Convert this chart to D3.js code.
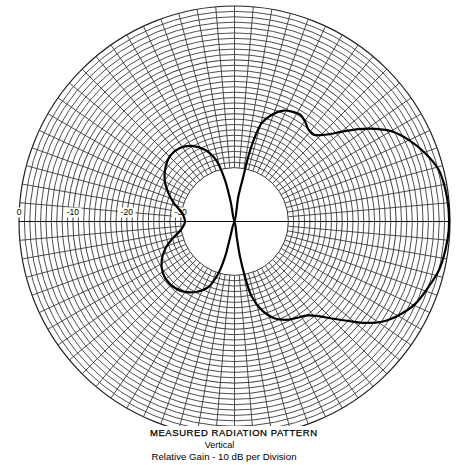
<!DOCTYPE html>
<html>
<head>
<meta charset="utf-8">
<script src="https://cdn.jsdelivr.net/npm/d3@7/dist/d3.min.js"></script>
<style>
  body { margin: 0; background: #fff; }
  text { font-family: "Liberation Sans", Arial, sans-serif; }
</style>
</head>
<body>
<div id="chart"></div>
<script>
// pattern, angle clockwise from top (deg) and relative gain (dB)
const angleDeg = [0, 8.7, 11.1, 12.0, 13.6, 15.5, 19.3, 23.8, 27.5, 31.6, 35.2, 38.9, 42.3, 46.3,
  50.1, 53.3, 56.7, 60.3, 64.9, 70.3, 75.8, 81.5, 86.9, 92.3, 97.7, 103.4, 108.6, 114.4,
  119.7, 124.2, 127.8, 131.1, 134.9, 138.4, 141.7, 145.5, 151.2, 157.3, 162.9, 167.1,
  169.2, 171.1, 171.8, 180,
  195.3, 195.0, 197.4, 202.0, 208.6, 217.1, 226.1, 234.2, 242.0, 248.9, 255.0, 261.0,
  269.4, 276.2, 281.9, 287.0, 293.9, 300.8, 309.0, 316.3, 323.4, 330.6, 337.6, 343.3,
  347.1, 349.0];
const gainDb = [-40, -35.3, -31.5, -27.7, -23.8, -21.0, -19.0, -17.5, -17.0, -16.7, -17.3, -18.1, -18.2, -16.7,
  -14.0, -11.3, -8.7, -6.3, -4.3, -2.4, -0.9, -0.4, -0.2, -0.2, -0.5, -1.0, -2.0, -3.1,
  -4.9, -6.9, -9.3, -11.9, -14.5, -16.5, -17.8, -18.5, -19.2, -20.5, -22.8, -25.7,
  -29.5, -33.4, -37.1, -40,
  -36.8, -33.2, -29.8, -26.8, -25.1, -23.8, -23.3, -23.6, -24.7, -26.3, -28.2, -29.9,
  -30.8, -30.5, -29.6, -28.2, -26.5, -24.9, -23.6, -22.9, -23.0, -23.9, -25.6, -28.1,
  -32.1, -36.5];

const tickValues = [0, -10, -20, -30];
const tickLabels = ["0", "-10", "-20", "-30"];
const titleLines = ["MEASURED RADIATION PATTERN", "Vertical", "Relative Gain - 10 dB per Division"];

const W = 458, H = 465;
const cx = 234.5, cy = 221.5, R = 215.5;

const svg = d3.select("#chart").append("svg")
  .attr("width", W)
  .attr("height", H);

svg.append("rect").attr("width", W).attr("height", H).attr("fill", "#fff");

const g = svg.append("g").attr("transform", `translate(${cx},${cy})`);

// radius scale: -40 dB at centre, 0 dB at the rim
const r = d3.scaleLinear().domain([-40, 0]).range([0, R]).clamp(true);

// grid rings every 1 dB from -30 to 0
const rings = d3.range(-30, 1, 1);
g.selectAll("circle.ring")
  .data(rings)
  .enter().append("circle")
    .attr("class", "ring")
    .attr("r", d => r(d))
    .attr("fill", "none")
    .attr("stroke", d => d % 10 === 0 ? "#222" : "#3a3a3a")
    .attr("stroke-width", d => d === 0 ? 1.2 : 0.9);

// spokes every 5 degrees
const spokes = d3.range(0, 360, 5);
g.selectAll("line.spoke")
  .data(spokes)
  .enter().append("line")
    .attr("class", "spoke")
    .attr("x1", d => r(-30) * Math.sin(d * Math.PI / 180))
    .attr("y1", d => -r(-30) * Math.cos(d * Math.PI / 180))
    .attr("x2", d => R * Math.sin(d * Math.PI / 180))
    .attr("y2", d => -R * Math.cos(d * Math.PI / 180))
    .attr("stroke", "#3a3a3a")
    .attr("stroke-width", 0.9);

// horizontal axis through centre
g.append("line")
  .attr("x1", -R).attr("x2", R)
  .attr("y1", 0).attr("y2", 0)
  .attr("stroke", "#111")
  .attr("stroke-width", 1);

// scale labels on the left
const lab = g.selectAll("g.lab")
  .data(tickValues)
  .enter().append("g")
    .attr("class", "lab")
    .attr("transform", d => `translate(${-r(d)},-9)`);

lab.append("rect")
  .attr("x", (d, i) => -tickLabels[i].length * 2.4 - 1.5)
  .attr("y", -5)
  .attr("width", (d, i) => tickLabels[i].length * 4.8 + 3)
  .attr("height", 10)
  .attr("fill", "#fffef5");

lab.append("text")
  .attr("text-anchor", "middle")
  .attr("dy", "0.35em")
  .attr("font-size", 8.5)
  .attr("fill", "#000")
  .text((d, i) => tickLabels[i]);

// measured pattern
const pattern = angleDeg.map((a, i) => ({ a: a * Math.PI / 180, db: gainDb[i] }));

const line = d3.lineRadial()
  .angle(d => d.a)
  .radius(d => r(d.db))
  .curve(d3.curveCatmullRomClosed.alpha(0.5));

g.append("path")
  .datum(pattern)
  .attr("fill", "none")
  .attr("stroke", "#000")
  .attr("stroke-width", 2.2)
  .attr("stroke-linejoin", "round")
  .attr("d", line);

// caption
const cap = svg.append("g");
cap.append("rect")
  .attr("x", 140).attr("y", 426)
  .attr("width", 190).attr("height", 13)
  .attr("fill", "#fff");

cap.append("text")
  .attr("x", 233.5).attr("y", 436)
  .attr("text-anchor", "middle")
  .attr("font-size", 9.5)
  .attr("textLength", 167)
  .attr("lengthAdjust", "spacing")
  .attr("stroke", "#000")
  .attr("stroke-width", 0.25)
  .attr("fill", "#000")
  .text(titleLines[0]);

cap.append("text")
  .attr("x", 219.5).attr("y", 447.5)
  .attr("text-anchor", "middle")
  .attr("font-size", 9)
  .attr("fill", "#000")
  .text(titleLines[1]);

cap.append("text")
  .attr("x", 224).attr("y", 459.5)
  .attr("text-anchor", "middle")
  .attr("font-size", 9)
  .attr("textLength", 145)
  .attr("lengthAdjust", "spacingAndGlyphs")
  .attr("fill", "#000")
  .text(titleLines[2]);
</script>
</body>
</html>
